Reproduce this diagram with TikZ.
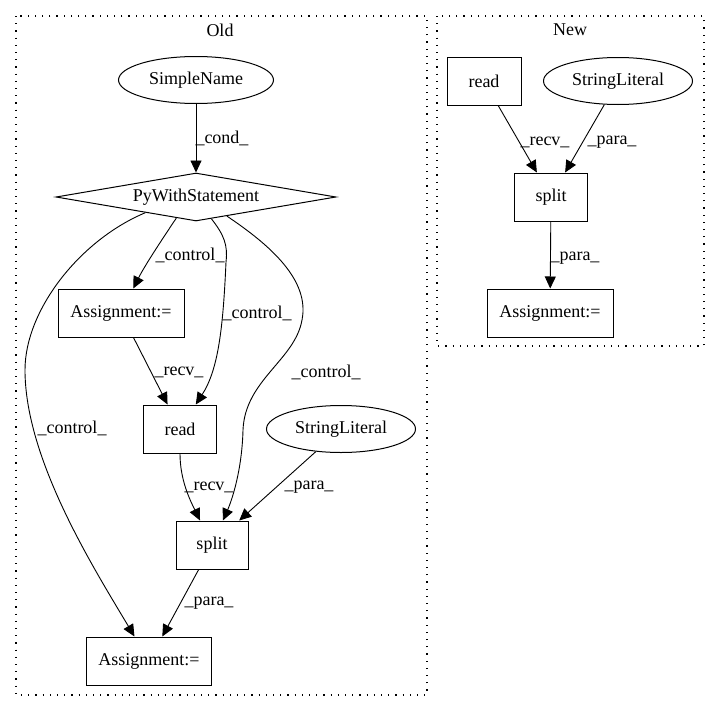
\documentclass[tikz,border=0pt]{standalone}
\usepackage{fontspec}
\setmainfont{Liberation Serif}
\usetikzlibrary{shapes.geometric,arrows.meta,calc}

\begin{document}
\begin{tikzpicture}[x=1pt,y=1pt,
  font=\fontsize{18}{20}\selectfont,
  boite/.style={draw, rectangle, line width=1pt, minimum height=48pt, inner sep=0pt},
  bulle/.style={draw, ellipse, line width=1pt, minimum height=47pt, inner sep=0pt},
  arc/.style={-{Triangle[length=12pt,width=11pt]}, line width=0.9pt},
  etiq/.style={inner sep=0pt},
  cadre/.style={line width=1.1pt, dash pattern=on 1.2pt off 6pt}]

\useasboundingbox (0,0) rectangle (720,-712);

% Cadres Old et New
\draw[cadre] (16,-16) rectangle (427,-695);
\node (old) at (220,-30) {Old};
\draw[cadre] (437,-16) rectangle (704,-346);
\node (new) at (570,-30) {New};

% Sommets Old
\node[bulle, minimum width=155pt] (sn) at (196,-80) {SimpleName};
\node[draw, diamond, shape aspect=5.83, line width=1pt, minimum width=280pt, minimum height=48pt, inner sep=0pt] (pws) at (196,-197) {PyWithStatement};
\node[boite, minimum width=126pt] (as1) at (121,-313) {Assignment:=};
\node[boite, minimum width=73pt] (rd) at (180,-429) {read};
\node[bulle, minimum width=149pt] (sl) at (341,-429) {StringLiteral};
\node[boite, minimum width=72pt] (sp) at (212,-545) {split};
\node[boite, minimum width=125pt] (as2) at (149,-661) {Assignment:=};

% Arcs Old
\draw[arc] (sn) -- (pws);
\draw[arc] ($(pws.south)!0.14!(pws.west)$) .. controls (165,-235) and (145,-265) .. (as1);
\draw[arc] ($(pws.south)!0.11!(pws.east)$) .. controls (224,-235) and (228,-245) .. (226,-262)
  .. controls (223,-330) and (218,-370) .. (rd);
\draw[arc] ($(pws.south)!0.22!(pws.east)$) .. controls (270,-245) and (310,-280) .. (302,-320)
  .. controls (295,-360) and (245,-380) .. (243,-430)
  .. controls (242,-470) and (232,-500) .. (sp);
\draw[arc] ($(pws.south)!0.36!(pws.west)$) .. controls (80,-240) and (25,-310) .. (25,-370)
  .. controls (25,-460) and (95,-570) .. (as2);
\draw[arc] (as1) -- (rd);
\draw[arc] (rd) .. controls (180,-480) and (190,-500) .. (sp);
\draw[arc] (sl) -- (sp);
\draw[arc] (sp) -- (as2);

% Etiquettes Old
\node[etiq] (e1) at (222,-138) {\_cond\_};
\node[etiq] (e2) at (190,-255) {\_control\_};
\node[etiq] (e3) at (257,-313) {\_control\_};
\node[etiq] (e4) at (326,-372) {\_control\_};
\node[etiq] (e5) at (72,-428) {\_control\_};
\node[etiq] (e6) at (179,-372) {\_recv\_};
\node[etiq] (e7) at (209,-487) {\_recv\_};
\node[etiq] (e8) at (309,-487) {\_para\_};
\node[etiq] (e9) at (209,-603) {\_para\_};

% Sommets New
\node[boite, minimum width=74pt] (nrd) at (484,-81) {read};
\node[bulle, minimum width=149pt] (nsl) at (618,-81) {StringLiteral};
\node[boite, minimum width=73pt] (nsp) at (551,-197) {split};
\node[boite, minimum width=126pt] (nas) at (550,-313) {Assignment:=};

% Arcs New
\draw[arc] (nrd) -- (nsp);
\draw[arc] (nsl) -- (nsp);
\draw[arc] (nsp) -- (nas);

% Etiquettes New
\node[etiq] (n1) at (545,-142) {\_recv\_};
\node[etiq] (n2) at (612,-142) {\_para\_};
\node[etiq] (n3) at (575,-258) {\_para\_};

\end{tikzpicture}
\end{document}
